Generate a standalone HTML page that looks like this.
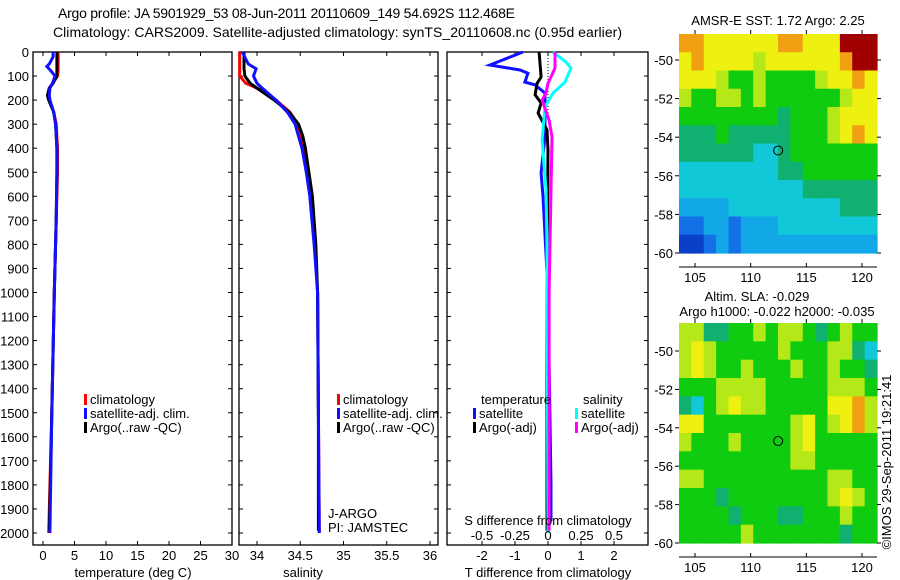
<!DOCTYPE html>
<html><head><meta charset="utf-8"><style>
html,body{margin:0;padding:0;background:#fff;}
svg{display:block;font-family:"Liberation Sans",sans-serif;}
</style></head><body>
<svg id="fig" width="900" height="580" viewBox="0 0 900 580">
<g id="g" fill="none"></g>
</svg>
<script>
// ---- data ----
const tDepth=[0,20,50,60,80,100,130,150,180,200,250,300,400,500,700,1000,1500,2000];
const tClim=[2.4,2.4,2.4,2.4,2.4,2.3,1.5,1.0,0.9,1.0,1.7,2.1,2.3,2.3,2.1,1.8,1.4,0.9];
const tArgo=[2.2,2.2,2.2,2.2,2.2,2.2,1.6,1.0,0.7,0.9,1.7,2.0,2.2,2.2,2.1,1.8,1.4,1.0];
const tSat=[1.6,1.6,1.0,0.6,1.3,1.9,1.5,1.1,1.0,1.1,1.7,2.0,2.2,2.2,2.1,1.8,1.4,1.1];
const sDepth=[0,50,70,100,130,150,200,250,300,350,400,500,600,800,1000,1500,2000];
const sClim=[33.80,33.80,33.80,33.80,33.87,34.0,34.22,34.38,34.47,34.51,34.54,34.58,34.62,34.67,34.70,34.71,34.72];
const sArgo=[33.85,33.85,33.85,33.86,33.92,34.0,34.2,34.37,34.48,34.53,34.56,34.60,34.64,34.68,34.70,34.71,34.71];
const sSat=[33.83,33.90,33.99,33.96,34.0,34.06,34.22,34.35,34.44,34.48,34.52,34.57,34.61,34.66,34.70,34.71,34.72];
const dtSatDepth=[0,54,75,88,125,137,171,353,503,600,1000,1800,1950];
const dtSat=[-0.76,-1.76,-0.85,-0.61,-0.70,-0.39,-0.09,-0.09,-0.21,-0.15,0,0.09,0.09];
const dtArgoDepth=[0,104,130,178,212,254,324,407,1000,1990];
const dtArgo=[-0.27,-0.21,-0.33,-0.39,-0.21,-0.30,-0.03,0,-0.03,-0.03];
const dsArgoDepth=[0,67,130,171,200,283,353,574,1000,1990];
const dsArgo=[0.053,0.053,0,-0.015,-0.045,0.008,0.03,0.023,0.008,0.008];
const dsSatDepth=[0,42,67,125,171,228,366,574,770,2000];
const dsSat=[0.038,0.136,0.174,0.129,0.038,-0.023,-0.045,-0.015,-0.008,0];
const depthTicks=[0,100,200,300,400,500,600,700,800,900,1000,1100,1200,1300,1400,1500,1600,1700,1800,1900,2000];
const tTicks=[0,5,10,15,20,25,30];
const sTicks=[34,34.5,35,35.5,36];
const dtTicks=[-2,-1,0,1,2];
const dsTicks=[-0.5,-0.25,0,0.25,0.5];
const dsTickLabels=["-0.5","-0.25","0","0.25","0.5"];
const lonTicks=[105,110,115,120];
const latTicks=[-50,-52,-54,-56,-58,-60];
const sstGrid=[
[8,8,7,7,7,7,7,7,8,8,7,7,7,9,9,9],
[7,8,7,7,7,7,6,7,7,7,7,7,7,8,9,9],
[7,7,7,6,5,5,6,5,5,5,5,6,7,7,8,7],
[6,5,5,6,6,5,6,5,5,5,5,5,5,6,7,7],
[5,5,5,5,5,5,5,5,4,5,5,5,6,7,7,7],
[4,4,4,5,4,4,4,4,4,5,5,5,6,7,8,7],
[4,4,4,4,4,4,3,3,4,5,5,5,5,5,5,5],
[3,3,3,3,3,3,3,3,4,4,5,5,5,5,5,5],
[3,3,3,3,3,3,3,3,3,3,4,4,4,4,4,4],
[2,2,2,2,3,3,3,3,3,3,3,3,3,4,4,4],
[1,1,2,2,1,2,2,2,3,3,3,3,3,3,3,3],
[0,0,1,2,1,2,2,2,2,2,2,2,2,2,2,2]];
const slaGrid=[
[6,6,4,4,5,5,6,5,6,6,5,4,5,6,5,5],
[6,7,6,5,5,5,5,5,6,5,5,5,6,6,4,3],
[6,7,6,5,5,6,5,5,5,6,5,5,6,5,5,4],
[5,5,5,6,6,6,6,5,5,5,5,5,6,6,6,5],
[4,3,5,6,7,6,6,5,5,5,5,5,7,7,8,6],
[7,7,5,5,5,5,5,5,5,6,7,5,6,7,8,6],
[6,5,5,5,6,5,5,5,5,6,7,5,5,5,5,5],
[5,5,5,5,5,5,5,5,5,6,6,5,5,5,5,5],
[6,6,5,5,5,5,5,5,5,5,5,5,6,6,5,5],
[5,5,5,4,5,5,5,5,5,5,5,5,6,7,6,5],
[5,5,5,5,4,5,5,5,4,4,5,5,5,6,5,5],
[5,5,5,5,5,6,5,5,5,5,5,5,5,4,5,5]];
const palette=["#0a40c8","#1470e6","#12a8e8","#10c8d8","#10b070","#10cc10","#b4e818","#eef010","#f0a010","#a00000"];

// ---- helpers ----
const NS="http://www.w3.org/2000/svg";
const G=document.getElementById('g');
const FS=13;
function mk(tag,attrs,parent){const e=document.createElementNS(NS,tag);for(const k in attrs)e.setAttribute(k,attrs[k]);(parent||G).appendChild(e);return e;}
function txt(s,x,y,anchor,parent,size){const e=mk('text',{x:x,y:y,'text-anchor':anchor||'middle','font-size':size||FS,fill:'#000'},parent);e.textContent=s;return e;}
const yD=d=>52+d*0.2405;
const BOT=545;

function panel(name,x0,x1){
  const g=mk('g',{});
  
  
  mk('rect',{x:x0,y:52,width:x1-x0,height:BOT-52,stroke:'#000','stroke-width':1.3,fill:'none'},g);
  return g;
}
function line(g,xs,ds,xf,col,nm){
  const p=xs.map((v,i)=>xf(v).toFixed(1)+','+yD(ds[i]).toFixed(1)).join(' ');
  const e=mk('polyline',{points:p,stroke:col,'stroke-width':3,fill:'none','stroke-linejoin':'miter'},g);
  
  
}
function legend(g,items,x,y){
  items.forEach((it,i)=>{
    mk('rect',{x:x,y:y+i*14-10,width:3,height:11,fill:it[1]},g);
    txt(it[0],x+6,y+i*14,'start',g);
  });
}

// titles
const t1=txt('Argo profile: JA 5901929_53 08-Jun-2011 20110609_149 54.692S 112.468E',58,18,'start',null,14);
t1.setAttribute('textLength','457');


const t2=txt('Climatology: CARS2009. Satellite-adjusted climatology: synTS_20110608.nc (0.95d earlier)',53,37,'start',null,14);
t2.setAttribute('textLength','569');



// depth axis
const ya=mk('g',{});


depthTicks.forEach(d=>{txt(String(d),29,yD(d)+5,'end',ya);});

// Panel 1 temperature
const xT=v=>43+v*6.3;
const p1=panel('temperature-panel',33,232);
depthTicks.forEach(d=>{mk('line',{x1:33,x2:37,y1:yD(d),y2:yD(d),stroke:'#000'},p1);mk('line',{x1:228,x2:232,y1:yD(d),y2:yD(d),stroke:'#000'},p1);});
tTicks.forEach(v=>{mk('line',{x1:xT(v),x2:xT(v),y1:BOT,y2:BOT-4,stroke:'#000'},p1);mk('line',{x1:xT(v),x2:xT(v),y1:52,y2:56,stroke:'#000'},p1);txt(String(v),xT(v),560,'middle',p1);});
txt('temperature (deg C)',133,577,'middle',p1);
line(p1,tClim,tDepth,xT,'#ff0000','temp-climatology-line');
line(p1,tArgo.slice(0,17).concat([1.0]),tDepth.slice(0,17).concat([1990]),xT,'#000000','temp-argo-line');
line(p1,tSat,tDepth,xT,'#1010ff','temp-satellite-line');
legend(p1,[['climatology','#ff0000'],['satellite-adj. clim.','#1010ff'],['Argo(..raw -QC)','#000']],84,404);

// Panel 2 salinity
const xS=v=>257+(v-34)*86.5;
const p2=panel('salinity-panel',239,438);
depthTicks.forEach(d=>{mk('line',{x1:239,x2:243,y1:yD(d),y2:yD(d),stroke:'#000'},p2);mk('line',{x1:434,x2:438,y1:yD(d),y2:yD(d),stroke:'#000'},p2);});
sTicks.forEach(v=>{mk('line',{x1:xS(v),x2:xS(v),y1:BOT,y2:BOT-4,stroke:'#000'},p2);mk('line',{x1:xS(v),x2:xS(v),y1:52,y2:56,stroke:'#000'},p2);txt(String(v),xS(v),560,'middle',p2);});
txt('salinity',303,577,'middle',p2);
line(p2,sClim,sDepth,xS,'#ff0000','sal-climatology-line');
line(p2,sArgo.slice(0,16).concat([34.71]),sDepth.slice(0,16).concat([1990]),xS,'#000000','sal-argo-line');
line(p2,sSat,sDepth,xS,'#1010ff','sal-satellite-line');
legend(p2,[['climatology','#ff0000'],['satellite-adj. clim.','#1010ff'],['Argo(..raw -QC)','#000']],337,404);
txt('J-ARGO',328,518,'start',p2);
txt('PI: JAMSTEC',328,532,'start',p2);

// Panel 3 differences
const xDT=v=>548+v*33;
const xDS=v=>548+v*132;
const p3=panel('difference-panel',447,648);
depthTicks.forEach(d=>{mk('line',{x1:447,x2:451,y1:yD(d),y2:yD(d),stroke:'#000'},p3);mk('line',{x1:644,x2:648,y1:yD(d),y2:yD(d),stroke:'#000'},p3);});
dtTicks.forEach(v=>{mk('line',{x1:xDT(v),x2:xDT(v),y1:BOT,y2:BOT-4,stroke:'#000'},p3);mk('line',{x1:xDT(v),x2:xDT(v),y1:52,y2:56,stroke:'#000'},p3);txt(String(v),xDT(v),560,'middle',p3);});
mk('line',{x1:548,x2:548,y1:52,y2:yD(260),stroke:'#000','stroke-dasharray':'1,2'},p3);
line(p3,dtSat,dtSatDepth,xDT,'#1010ff','temp-diff-satellite-line');
line(p3,dtArgo,dtArgoDepth,xDT,'#000000','temp-diff-argo-line');
line(p3,dsSat,dsSatDepth,xDS,'#00ffff','sal-diff-satellite-line');
line(p3,dsArgo,dsArgoDepth,xDS,'#ff00ff','sal-diff-argo-line');
dsTicks.forEach((v,i)=>{txt(dsTickLabels[i],xDS(v),540,'middle',p3);});
txt('S difference from climatology',548,525,'middle',p3);
txt('T difference from climatology',548,577,'middle',p3);
txt('temperature',481,404,'start',p3);
legend(p3,[['satellite','#1010ff'],['Argo(-adj)','#000']],473,418);
txt('salinity',583,404,'start',p3);
legend(p3,[['satellite','#00ffff'],['Argo(-adj)','#ff00ff']],575,418);

// Maps
function map(name,grid,top,boxBot,latM50,latM60,title1,title2,tY){
  const g=mk('g',{});
  
  
  const L=679,R=877;
  const xL=lon=>695+(lon-105)*(167/15);
  const yL=lat=>latM50+(-50-lat)*((latM60-latM50)/10);
  const dataBot=yL(-60);
  const rows=grid.length,cols=grid[0].length;
  const cw=(R-L)/cols,ch=(dataBot-top)/rows;
  grid.forEach((row,r)=>row.forEach((v,c)=>{
    const cell=mk('rect',{x:(L+c*cw).toFixed(2),y:(top+r*ch).toFixed(2),width:(cw+0.6).toFixed(2),height:(ch+0.6).toFixed(2),fill:palette[v]},g);
    
    
  }));
  mk('line',{x1:L,x2:R,y1:boxBot,y2:boxBot,stroke:'#000'},g);
  lonTicks.forEach(v=>{mk('line',{x1:xL(v),x2:xL(v),y1:boxBot,y2:boxBot-4,stroke:'#000'},g);mk('line',{x1:xL(v),x2:xL(v),y1:top-4,y2:top,stroke:'#000'},g);txt(String(v),xL(v),boxBot+15,'middle',g);});
  latTicks.forEach(v=>{mk('line',{x1:L-4,x2:L,y1:yL(v),y2:yL(v),stroke:'#000'},g);mk('line',{x1:R,x2:R+4,y1:yL(v),y2:yL(v),stroke:'#000'},g);txt(String(v),L-6,yL(v)+5,'end',g);});
  mk('circle',{cx:xL(112.47),cy:yL(-54.69),r:4.5,stroke:'#000','stroke-width':1,fill:'none'},g);
  txt(title1,title2?757:778,tY,'middle',g);
  if(title2)txt(title2,777,tY+15,'middle',g);
}
map('sst-map',sstGrid,34,267,60,253,'AMSR-E SST: 1.72 Argo: 2.25',null,25);
map('sla-map',slaGrid,323,557,351,543,'Altim. SLA: -0.029','Argo h1000: -0.022 h2000: -0.035',301);
const cr=txt('©IMOS 29-Sep-2011 19:21:41',0,0,'middle');
cr.setAttribute('transform','translate(891,462) rotate(-90)');


</script>
</body></html>
